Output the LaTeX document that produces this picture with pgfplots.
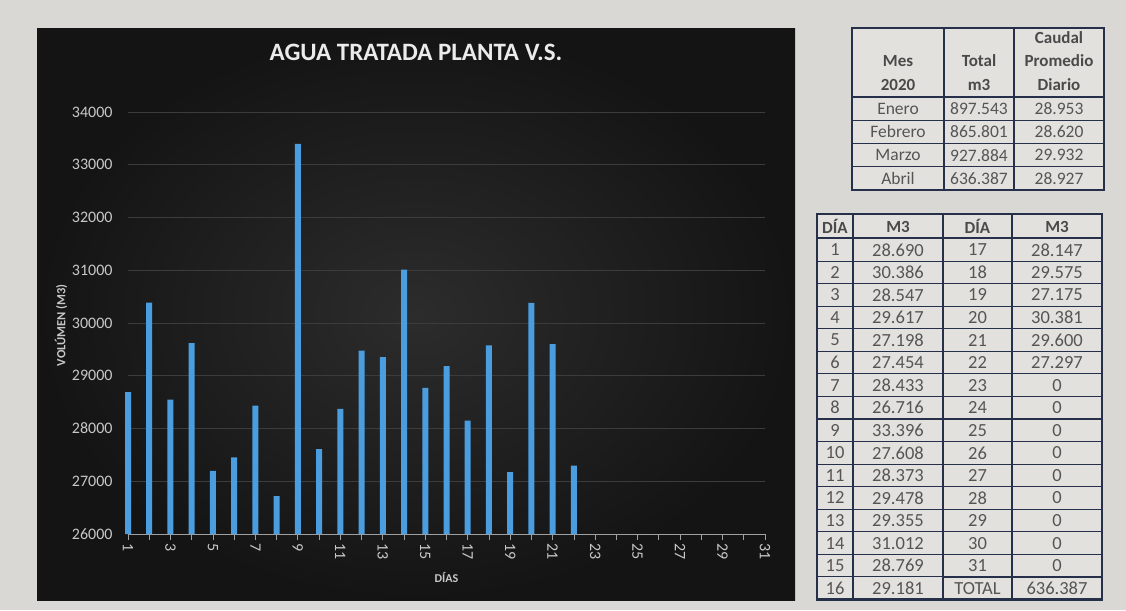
\documentclass[border=0pt]{standalone}
\usepackage{fontspec}
\setmainfont{Carlito}
\usepackage{pgfplots}
\pgfplotsset{compat=1.18}

\definecolor{bgpaper}{HTML}{DAD8D4}
\definecolor{cellbg}{HTML}{E3E1DD}
\definecolor{panelin}{HTML}{2C2C2C}
\definecolor{panelout}{HTML}{141414}
\definecolor{barblue}{HTML}{4A9DDE}
\definecolor{gridc}{HTML}{3C3C3C}
\definecolor{ticklab}{HTML}{C8C8C8}
\definecolor{axisc}{HTML}{A0A0A0}
\definecolor{navy}{HTML}{27304A}
\definecolor{celltext}{HTML}{555555}
\definecolor{headtext}{HTML}{4A4A4A}

\begin{document}
\begin{tikzpicture}
\begin{scope}[x=1pt,y=1pt]
% paper background and dark chart panel
\fill[bgpaper] (0,0) rectangle (1126,610);
\shade[inner color=panelin, outer color=panelout] (37,10) rectangle (795,581);
\node[font=\bfseries\fontsize{25}{30}\selectfont, text=white!92!black] at (416,558) {AGUA TRATADA PLANTA V.S.};
\end{scope}

\begin{axis}[
  at={(128pt,76pt)}, anchor=south west, scale only axis,
  width=637pt, height=422pt,
  xmin=1, xmax=31, ymin=26000, ymax=34000,
  clip=false,
  ybar, bar width=6pt,
  axis x line*=bottom, axis y line*=left,
  y axis line style={draw=none},
  x axis line style={draw=axisc, line width=0.8pt},
  xtick={1,3,...,31}, minor xtick={2,4,...,30},
  ytick={26000,27000,...,34000},
  scaled y ticks=false,
  tick align=outside,
  major tick length=6pt, minor tick length=6pt,
  xtick style={draw=axisc, line width=0.8pt},
  ytick style={draw=none},
  ymajorgrids, grid style={draw=gridc, line width=0.8pt},
  /pgf/number format/1000 sep={},
  /pgf/number format/assume math mode=true,
  yticklabel style={text=ticklab, font=\fontsize{16}{18}\selectfont, xshift=-6pt},
  xticklabel style={text=ticklab, font=\fontsize{16}{18}\selectfont, rotate=-90, anchor=west},
  xlabel={DÍAS}, ylabel={VOLÚMEN (M3)},
  every axis x label/.style={at={(axis description cs:0.5,-0.104)}, anchor=center, font=\bfseries\fontsize{12}{14}\selectfont, text=ticklab},
  every axis y label/.style={at={(axis description cs:-0.1052,0.495)}, rotate=90, anchor=center, font=\bfseries\fontsize{12.5}{14}\selectfont, text=ticklab},
]
\begin{scope}
\clip (axis cs:0,26000) rectangle (axis cs:32,34000);
\addplot[fill=barblue, draw=none] coordinates {
(1,28690) (2,30386) (3,28547) (4,29617) (5,27198) (6,27454) (7,28433) (8,26716)
(9,33396) (10,27608) (11,28373) (12,29478) (13,29355) (14,31012) (15,28769) (16,29181)
(17,28147) (18,29575) (19,27175) (20,30381) (21,29600) (22,27297)
};
\end{scope}
\end{axis}

\begin{scope}[x=1pt,y=1pt]
% ---------- top table (monthly summary) ----------
\fill[cellbg] (852,{610-28}) rectangle (1104,{610-190});
\foreach \yy in {120.5,143.5,166.5} \draw[navy, line width=1.1pt] (852,{610-\yy}) -- (1104,{610-\yy});
\foreach \xx in {944,1014} \draw[navy, line width=1.1pt] (\xx,{610-28}) -- (\xx,{610-190});
\draw[navy, line width=2pt] (852,{610-97}) -- (1104,{610-97});
\draw[navy, line width=2.2pt] (852,{610-28}) rectangle (1104,{610-190});
\begin{scope}[every node/.style={font=\bfseries\fontsize{17}{19}\selectfont, text=headtext}]
\node at (898,{610-61}) {Mes};
\node at (898,{610-84.5}) {2020};
\node at (979,{610-61}) {Total};
\node at (979,{610-84.5}) {m3};
\node at (1059,{610-38}) {Caudal};
\node at (1059,{610-61}) {Promedio};
\node at (1059,{610-84.5}) {Diario};
\end{scope}
\begin{scope}[every node/.style={font=\fontsize{17.5}{19}\selectfont, text=celltext}]
\foreach \m/\t/\c [count=\k] in {Enero/897.543/28.953, Febrero/865.801/28.620, Marzo/927.884/29.932, Abril/636.387/28.927}{
  \pgfmathsetmacro{\yc}{610-(97+(\k-0.5)*23.25)}
  \node at (898,\yc) {\m};
  \node at (979,\yc) {\t};
  \node at (1059,\yc) {\c};
}
\end{scope}

% ---------- daily table ----------
\fill[cellbg] (817,{610-214}) rectangle (1102,{610-599.5});
\foreach \k in {1,...,15} \draw[navy, line width=1.1pt] (817,{610-(238.5+\k*22.5625)}) -- (1102,{610-(238.5+\k*22.5625)});
\foreach \xx in {853,1012} \draw[navy, line width=1.1pt] (\xx,{610-214}) -- (\xx,{610-599.5});
\draw[navy, line width=2pt] (943,{610-214}) -- (943,{610-599.5});
\draw[navy, line width=2pt] (817,{610-238.5}) -- (1102,{610-238.5});
\draw[navy, line width=2pt] (943,{610-(238.5+15*22.5625)}) -- (1102,{610-(238.5+15*22.5625)});
\draw[navy, line width=2pt] (1012,{610-(238.5+15*22.5625)}) -- (1012,{610-599.5});
\draw[navy, line width=2.2pt] (817,{610-214}) rectangle (1102,{610-599.5});
\begin{scope}[every node/.style={font=\bfseries\fontsize{17}{19}\selectfont, text=headtext}]
\node at (835,{610-226.5}) {DÍA};
\node at (898,{610-226.5}) {M3};
\node at (977.5,{610-226.5}) {DÍA};
\node at (1057,{610-226.5}) {M3};
\end{scope}
\begin{scope}[every node/.style={font=\fontsize{18.5}{20}\selectfont, text=celltext}]
\foreach \d/\m/\e/\n [count=\k] in {
 1/28.690/17/28.147, 2/30.386/18/29.575, 3/28.547/19/27.175, 4/29.617/20/30.381,
 5/27.198/21/29.600, 6/27.454/22/27.297, 7/28.433/23/0, 8/26.716/24/0,
 9/33.396/25/0, 10/27.608/26/0, 11/28.373/27/0, 12/29.478/28/0,
 13/29.355/29/0, 14/31.012/30/0, 15/28.769/31/0, 16/29.181/TOTAL/636.387}{
  \pgfmathsetmacro{\yc}{610-(238.5+(\k-0.5)*22.5625)}
  \node at (835,\yc) {\d};
  \node at (898,\yc) {\m};
  \node at (977.5,\yc) {\e};
  \node at (1057,\yc) {\n};
}
\end{scope}
\end{scope}
\end{tikzpicture}
\end{document}
